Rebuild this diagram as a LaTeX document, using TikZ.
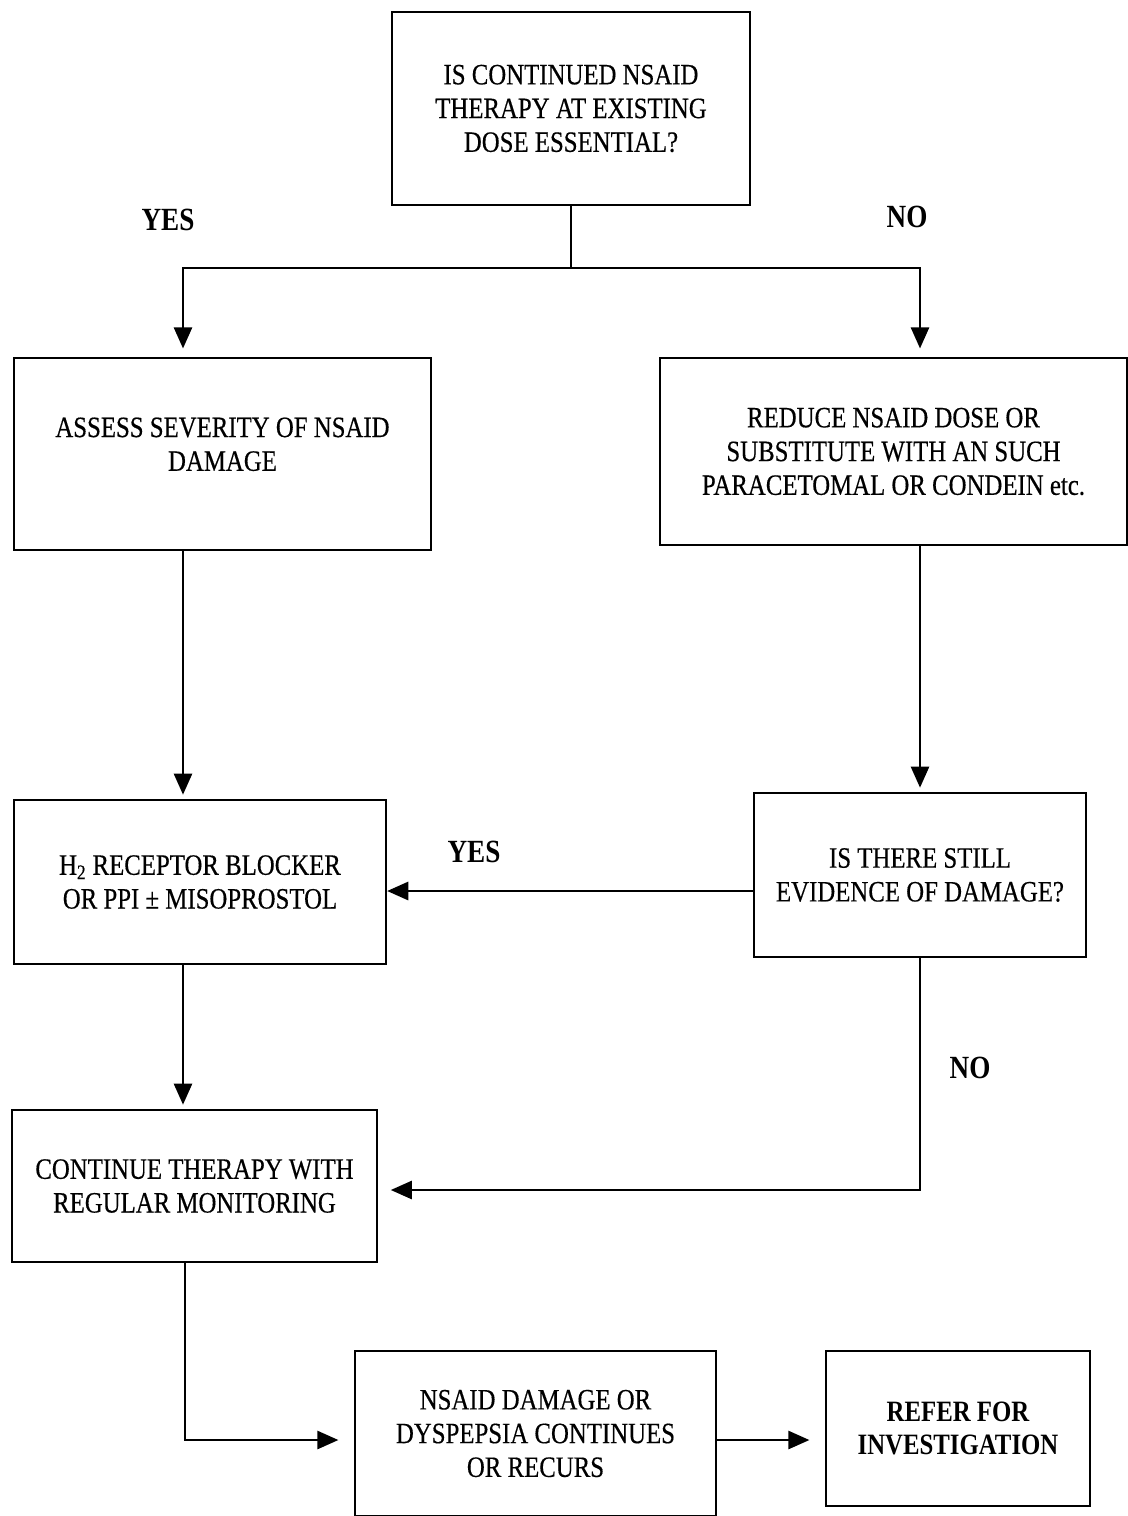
\documentclass[tikz,border=0pt]{standalone}
\usepackage{fontspec}
\setmainfont{Liberation Serif}[FakeStretch=0.84, UprightFeatures={FakeBold=0.4}]
\usetikzlibrary{arrows.meta,calc}
\tikzset{
	box/.style={draw, line width=1.6pt, align=center, inner sep=0pt, font=\fontsize{21}{24}\selectfont},
	arr/.style={line width=1.4pt, -{Triangle[length=15pt,width=13pt]}},
	link/.style={line width=1.4pt},
	answer/.style={font=\fontsize{23}{26}\selectfont\bfseries}
}

\begin{document}
\begin{tikzpicture}[x=0.025cm, y=-0.025cm]
			%%%%% START %%%%%
			\useasboundingbox (0, 0) rectangle (1128, 1516);
			
			\node[box, minimum width=8.95cm, minimum height=4.825cm] (essential) at (571, 108.5) {IS CONTINUED NSAID\\THERAPY AT EXISTING\\DOSE ESSENTIAL?};
			
			\node[box, minimum width=10.425cm, minimum height=4.8cm] (assess) at (222.5, 454) {ASSESS SEVERITY OF NSAID\\DAMAGE\\[-0.35cm]};
			\node[box, minimum width=11.675cm, minimum height=4.675cm] (reduce) at (893.5, 451.5) {REDUCE NSAID DOSE OR\\SUBSTITUTE WITH AN SUCH\\PARACETOMAL OR CONDEIN etc.};
			
			\node[box, minimum width=9.3cm, minimum height=4.1cm] (blocker) at (200, 882) {H\textsubscript{2} RECEPTOR BLOCKER\\OR PPI ± MISOPROSTOL};
			\node[box, minimum width=8.3cm, minimum height=4.1cm] (still) at (920, 875) {IS THERE STILL\\EVIDENCE OF DAMAGE?};
			
			\node[box, minimum width=9.125cm, minimum height=3.8cm] (monitor) at (194.5, 1186) {CONTINUE THERAPY WITH\\REGULAR MONITORING};
			
			\node[box, minimum width=9.025cm, minimum height=4.125cm] (recurs) at (535.5, 1433.5) {NSAID DAMAGE OR\\DYSPEPSIA CONTINUES\\OR RECURS};
			\node[box, minimum width=6.6cm, minimum height=3.875cm, font=\fontsize{21}{24}\selectfont\bfseries] (refer) at (958, 1428.5) {REFER FOR\\INVESTIGATION};
			
			\node[answer] (yesA) at (168, 220) {YES};
			\node[answer] (noA) at (907, 217) {NO};
			\node[answer] (yesB) at (474, 852) {YES};
			\node[answer] (noB) at (970, 1068) {NO};
			
			% columns and rows of the connectors
			\coordinate (lcol) at (183, 0);
			\coordinate (split) at (571, 268);
			\coordinate (yesrow) at (0, 891);
			\coordinate (norow) at (0, 1190);
			\coordinate (botrow) at (0, 1440);
			
			\draw[link] (essential.south) -- (split);
			\draw[arr, shorten >=6pt] (split) -| (lcol |- assess.north);
			\draw[arr, shorten >=6pt] (split) -| (still.north |- reduce.north);
			
			\draw[arr, shorten >=3pt] (lcol |- assess.south) -- (lcol |- blocker.north);
			\draw[arr, shorten >=3pt] (still.north |- reduce.south) -- (still.north);
			
			\draw[arr] (still.west |- yesrow) -- (blocker.east |- yesrow);
			\draw[arr, shorten >=9pt] (still.south) |- (monitor.east |- norow);
			
			\draw[arr, shorten >=3pt] (lcol |- blocker.south) -- (lcol |- monitor.north);
			\draw[arr, shorten >=11pt] ($(lcol |- monitor.south)+(2, 0)$) |- (recurs.west |- botrow);
			\draw[arr, shorten >=11pt] (recurs.east |- botrow) -- (refer.west |- botrow);
			%%%%% END %%%%%
\end{tikzpicture}
\end{document}
